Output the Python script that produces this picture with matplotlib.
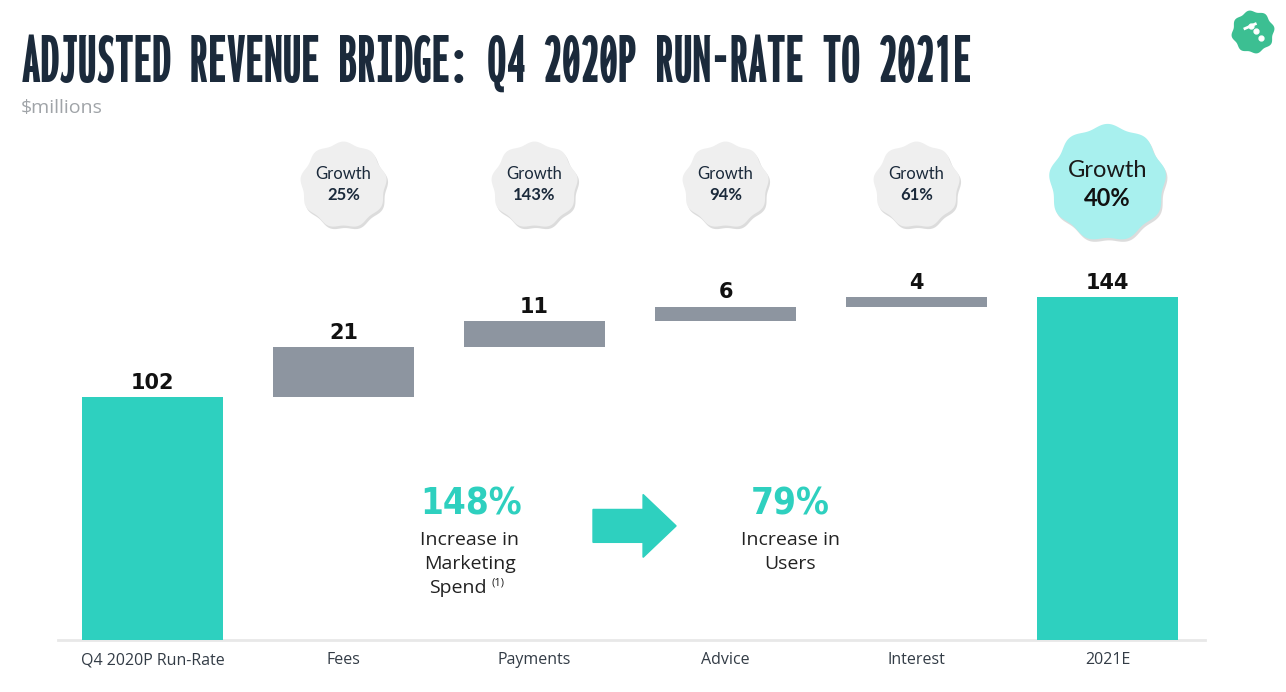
import time
import numpy as np
import matplotlib
matplotlib.use("Agg")
import matplotlib.pyplot as plt
from matplotlib.patches import Polygon, FancyArrow
from matplotlib import font_manager
from matplotlib.ft2font import FT2Font

# ---- data ----
categories = ["Q4 2020P Run-Rate", "Fees", "Payments", "Advice", "Interest", "2021E"]
values = [102, 21, 11, 6, 4, 144]
kinds = ["total", "delta", "delta", "delta", "delta", "total"]
growth = [None, "25%", "143%", "94%", "61%", "40%"]
marketing_increase = "148%"
user_increase = "79%"
title = "ADJUSTED REVENUE BRIDGE: Q4 2020P RUN-RATE TO 2021E"

TEAL = "#2ED0BF"
GRAY = "#8D95A0"
NAVY = "#1B2A3B"

W, H = 1286, 692
fig = plt.figure(figsize=(W / 100, H / 100), dpi=100)
renderer = fig.canvas.get_renderer()

needed = set(ord(c) for c in title + "0123456789%" if c != " ")


def wnum(f):
    return f.weight if isinstance(f.weight, int) else font_manager.weight_dict.get(f.weight, 400)


# condensed sans bold for the big percentages
big_fp = None
for f in font_manager.fontManager.ttflist:
    st = str(f.stretch).lower()
    nm = f.name.lower()
    fn = f.fname.lower()
    cond = ("condensed" in st) or ("narrow" in nm) or ("condensed" in nm) or \
           ("condensed" in fn) or ("narrow" in fn)
    if cond and wnum(f) >= 600 and f.style == "normal" and "serif" not in nm.replace("sans", ""):
        try:
            if needed.issubset(FT2Font(f.fname).get_charmap().keys()):
                big_fp = font_manager.FontProperties(fname=f.fname)
                break
        except Exception:
            pass
if big_fp is None:
    big_fp = font_manager.FontProperties(family="DejaVu Sans", weight="bold")

# narrowest upright bold font with full glyph coverage for the display title
best_fn, best_w = None, None
seen = set()
t0 = time.time()
for f in font_manager.fontManager.ttflist:
    if time.time() - t0 > 40:
        break
    if wnum(f) < 600 or f.style != "normal" or f.fname in seen or "cjk" in f.name.lower():
        continue
    seen.add(f.fname)
    try:
        if not needed.issubset(FT2Font(f.fname).get_charmap().keys()):
            continue
        fp = font_manager.FontProperties(fname=f.fname, size=38)
        t = fig.text(0, 0, title, fontproperties=fp)
        wd = t.get_window_extent(renderer).width
        t.remove()
    except Exception:
        continue
    if best_w is None or wd < best_w:
        best_w, best_fn = wd, f.fname
title_fp = font_manager.FontProperties(fname=best_fn) if best_fn else big_fp

avail = {f.name for f in font_manager.fontManager.ttflist}
body_font = "Open Sans" if "Open Sans" in avail else "DejaVu Sans"
badge_font = "Lato" if "Lato" in avail else "DejaVu Sans"


def fit_width(txt, width_px):
    fs = txt.get_fontsize()
    wd = txt.get_window_extent(renderer).width
    txt.set_fontsize(fs * width_px / wd)


ax_l, ax_r, ax_b, ax_t = 58, 1205, 640, 120
ax = fig.add_axes([ax_l / W, (H - ax_b) / H, (ax_r - ax_l) / W, (ax_b - ax_t) / H])
ax.set_xlim(-0.495, 5.51)
ax.set_ylim(0, 218.3)

# waterfall bars
bottoms, heights, colors = [], [], []
running = 0
for v, k in zip(values, kinds):
    if k == "total":
        bottoms.append(0); heights.append(v); colors.append(TEAL)
        running = v
    else:
        bottoms.append(running); heights.append(v); colors.append(GRAY)
        running += v
x = np.arange(len(categories))
ax.bar(x, heights, bottom=bottoms, width=0.738, color=colors, zorder=3)
for xi, b, h in zip(x, bottoms, heights):
    ax.annotate(f"{h}", (xi, b + h), xytext=(0, 3), textcoords="offset points",
                ha="center", va="bottom", fontsize=15, fontweight="bold",
                color="#111111", family="DejaVu Sans")

# axes styling
for s in ["top", "right", "left"]:
    ax.spines[s].set_visible(False)
ax.spines["bottom"].set_color("#E8E8E8")
ax.spines["bottom"].set_linewidth(2)
ax.set_yticks([])
ax.set_xticks(x)
ax.set_xticklabels(categories, fontsize=11.5, color="#333C46", family=body_font)
ax.tick_params(axis="x", length=0, pad=9)


# scalloped badge
def badge(cx, cy, r_px, face, zorder=5):
    t = np.linspace(0, 2 * np.pi, 400)
    rr = r_px * (1 + 0.035 * np.sin(9 * t))
    px, py = ax.transData.transform((cx, cy))
    pts = np.column_stack([px + rr * np.cos(t), py + rr * np.sin(t)])
    sh = pts + np.array([1.5, -2.5])
    inv = ax.transData.inverted()
    ax.add_patch(Polygon(inv.transform(sh), closed=True, facecolor="#BBBBBB",
                         edgecolor="none", alpha=0.5, zorder=zorder - 1, clip_on=False))
    ax.add_patch(Polygon(inv.transform(pts), closed=True, facecolor=face,
                         edgecolor="none", zorder=zorder, clip_on=False))


for xi, g in zip(x, growth):
    if g is None:
        continue
    if xi == len(categories) - 1:
        badge(xi, 191.9, 57, "#A8F0EE")
        ax.text(xi, 197.3, "Growth", ha="center", va="center", fontsize=17,
                color="#1A1A1A", family=badge_font, zorder=6)
        ax.text(xi, 185.5, g, ha="center", va="center", fontsize=17,
                fontweight="bold", color="#111111", family=badge_font, zorder=6)
    else:
        badge(xi, 191.0, 42, "#EFEFEF")
        ax.text(xi, 195.6, "Growth", ha="center", va="center", fontsize=12,
                color=NAVY, family=badge_font, zorder=6)
        ax.text(xi, 186.8, g, ha="center", va="center", fontsize=12,
                fontweight="bold", color=NAVY, family=badge_font, zorder=6)

# middle callouts (baseline at ~515 px -> 52.5 data units)
t1 = ax.text(1.665, 52.5, marketing_increase, ha="center", va="baseline",
             color=TEAL, fontproperties=big_fp)
t1.set_fontsize(36)
fit_width(t1, 102)
ax.text(1.66, 42.0, "Increase in", ha="center", va="center", fontsize=14,
        color="#222222", family=body_font)
ax.text(1.66, 32.0, "Marketing", ha="center", va="center", fontsize=14,
        color="#222222", family=body_font)
ax.text(1.60, 22.0, "Spend", ha="center", va="center", fontsize=14,
        color="#222222", family=body_font)
ax.text(1.81, 24.0, "(1)", ha="center", va="center", fontsize=8,
        color="#222222", family=body_font)

t2 = ax.text(3.34, 52.5, user_increase, ha="center", va="baseline",
             color=TEAL, fontproperties=big_fp)
t2.set_fontsize(t1.get_fontsize())
ax.text(3.34, 42.0, "Increase in", ha="center", va="center", fontsize=14,
        color="#222222", family=body_font)
ax.text(3.34, 32.0, "Users", ha="center", va="center", fontsize=14,
        color="#222222", family=body_font)

ax.add_patch(FancyArrow(2.306, 47.9, 0.435, 0, width=13.8, head_width=26.4,
                        head_length=0.173, length_includes_head=True,
                        color=TEAL, zorder=4))

# title and subtitle
tt_ = fig.text(22 / W, 1 - 82 / H, title,
               ha="left", va="baseline", color=NAVY, fontproperties=title_fp)
tt_.set_fontsize(38)
fit_width(tt_, 950)
fig.text(21 / W, 1 - 108 / H, "$millions", ha="left", va="center", fontsize=14,
         color="#A0A4A8", family=body_font)

# logo blob
lax = fig.add_axes([1230 / W, 1 - 55 / H, 46 / W, 46 / H])
lax.set_xlim(-1, 1); lax.set_ylim(-1, 1); lax.axis("off")
tt = np.linspace(0, 2 * np.pi, 300)
rl = 0.9 * (1 + 0.05 * np.sin(8 * tt))
lax.add_patch(Polygon(np.column_stack([rl * np.cos(tt), rl * np.sin(tt)]),
                      closed=True, facecolor="#3CBF92", edgecolor="none"))
lax.plot([-0.1, 0.15, 0.35], [0.25, 0.05, -0.25], "o", color="white", ms=3.5)
lax.plot([-0.35, 0.1], [0.15, 0.35], "-", color="white", lw=2)

fig.savefig("out.png", dpi=100, facecolor="white")
